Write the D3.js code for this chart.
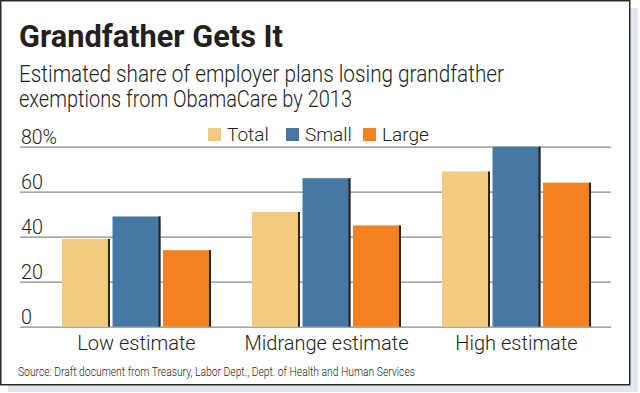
<!DOCTYPE html>
<html><head><meta charset="utf-8">
<script src="https://cdn.jsdelivr.net/npm/d3@7"></script>
<style>
html,body{margin:0;padding:0;background:#fff;}
svg{display:block;}
text{font-family:Roboto,"Noto Sans",sans-serif;}
.lt{font-weight:300;}
</style></head>
<body>
<script>
const categories = ["Low estimate", "Midrange estimate", "High estimate"];
const seriesNames = ["Total", "Small", "Large"];
const totalValues = [39, 51, 69];
const smallValues = [49, 66, 80];
const largeValues = [34, 45, 64];
const yTicks = [0, 20, 40, 60, 80];
const yTickLabels = ["0", "20", "40", "60", "80%"];
const colors = ["#F1CB80", "#4777A3", "#F3821F"];

const W = 640, H = 393;
const svg = d3.select("body").append("svg").attr("width", W).attr("height", H);

// shadow + panel
svg.append("rect").attr("x", 8).attr("y", 8).attr("width", 630).attr("height", 384).attr("fill", "#e4e6ef");
svg.append("rect").attr("x", 0.75).attr("y", 0.75).attr("width", 629).attr("height", 384)
  .attr("fill", "#fff").attr("stroke", "#2b2b2b").attr("stroke-width", 1.5);

// title
svg.append("text").attr("x", 19).attr("y", 47).attr("font-size", 32).attr("font-weight", "bold")
  .attr("fill", "#231f20").attr("textLength", 264).attr("lengthAdjust", "spacingAndGlyphs")
  .text("Grandfather Gets It");
svg.append("text").attr("class", "lt").attr("x", 19).attr("y", 82).attr("font-size", 23).attr("fill", "#231f20")
  .attr("textLength", 485).attr("lengthAdjust", "spacingAndGlyphs")
  .text("Estimated share of employer plans losing grandfather");
svg.append("text").attr("class", "lt").attr("x", 19).attr("y", 107).attr("font-size", 23).attr("fill", "#231f20")
  .attr("textLength", 333).attr("lengthAdjust", "spacingAndGlyphs")
  .text("exemptions from ObamaCare by 2013");

const y = d3.scaleLinear().domain([0, 80]).range([326.7, 146.7]);
const x0 = d3.scaleBand().domain(categories).range([41.5, 611.5]).paddingInner(0.216).paddingOuter(0.108);
const x1 = d3.scaleBand().domain(seriesNames).range([0, x0.bandwidth()]).paddingInner(0.05).paddingOuter(0);

// gridlines
const ga = svg.append("g").attr("transform", "translate(611,0)")
  .call(d3.axisRight(y).tickValues(yTicks).tickSize(-(611 - 20)).tickFormat(""));
ga.select(".domain").remove();
ga.selectAll(".tick line").attr("stroke", "#8a8a8a").attr("stroke-width", 1.3);

// y labels
svg.append("g").selectAll("text").data(yTicks).join("text").attr("class", "lt")
  .attr("x", 21).attr("y", d => y(d) - 3).attr("font-size", 20).attr("fill", "#231f20")
  .attr("textLength", (d, i) => [11, 22, 22, 22, 36][i]).attr("lengthAdjust", "spacingAndGlyphs")
  .text((d, i) => yTickLabels[i]);

// bars
const data = categories.map((c, i) => ({cat: c, vals: [totalValues[i], smallValues[i], largeValues[i]]}));
const groups = svg.append("g").selectAll("g").data(data).join("g")
  .attr("transform", d => `translate(${x0(d.cat)},0)`);
groups.selectAll("rect.bar").data(d => d.vals.map((v, j) => ({s: seriesNames[j], v, j}))).join("rect")
  .attr("class", "bar")
  .attr("x", d => x1(d.s)).attr("y", d => y(d.v))
  .attr("width", x1.bandwidth()).attr("height", d => y(0) - y(d.v))
  .attr("fill", d => colors[d.j]);
groups.selectAll("rect.edge").data(d => d.vals.map((v, j) => ({s: seriesNames[j], v, j}))).join("rect")
  .attr("class", "edge")
  .attr("x", d => x1(d.s) + x1.bandwidth() - 2).attr("y", d => y(d.v))
  .attr("width", 2).attr("height", d => y(0) - y(d.v))
  .attr("fill", "#2a241c");

// category labels
svg.append("g").selectAll("text").data(categories).join("text").attr("class", "lt")
  .attr("x", d => x0(d) + x0.bandwidth() / 2).attr("y", 350).attr("text-anchor", "middle")
  .attr("font-size", 20).attr("fill", "#231f20")
  .text(d => d);

// legend
const legX = [208, 286, 363];
const leg = svg.append("g").selectAll("g").data(seriesNames).join("g")
  .attr("transform", (d, i) => `translate(${legX[i]},128)`);
leg.append("rect").attr("width", 13).attr("height", 13).attr("fill", (d, i) => colors[i]);
leg.append("text").attr("class", "lt").attr("x", 19).attr("y", 12.5).attr("font-size", 19).attr("fill", "#231f20").text(d => d);

// source
svg.append("text").attr("class", "lt").attr("x", 18).attr("y", 376).attr("font-size", 13).attr("fill", "#231f20")
  .attr("textLength", 397).attr("lengthAdjust", "spacingAndGlyphs")
  .text("Source: Draft document from Treasury, Labor Dept., Dept. of Health and Human Services");
</script>
</body></html>
